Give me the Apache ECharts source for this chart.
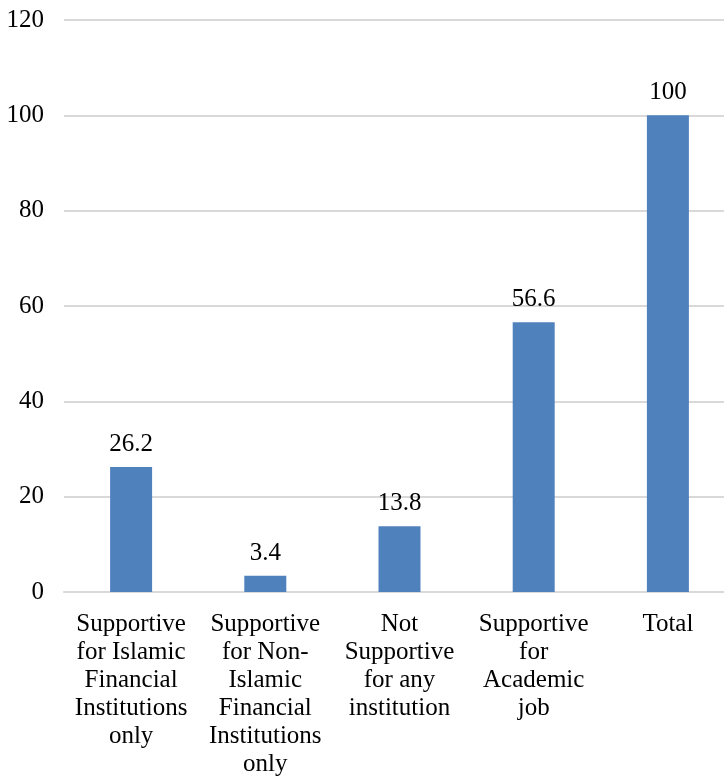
<!DOCTYPE html>
<html>
<head>
<meta charset="utf-8">
<script src="https://cdn.jsdelivr.net/npm/echarts@6/dist/echarts.min.js"></script>
<style>
  html, body { margin: 0; padding: 0; background: #ffffff; }
  #chart { width: 724px; height: 782px; }
</style>
</head>
<body>
<div id="chart"></div>
<script>
// Survey responses by supportiveness (percent)
const categories = [
  'Supportive\nfor Islamic\nFinancial\nInstitutions\nonly',
  'Supportive\nfor Non-\nIslamic\nFinancial\nInstitutions\nonly',
  'Not\nSupportive\nfor any\ninstitution',
  'Supportive\nfor\nAcademic\njob',
  'Total'
];
const values = [26.2, 3.4, 13.8, 56.6, 100];
const yTicks = { min: 0, max: 120, interval: 20 };

const FONT = 'Liberation Serif, Times New Roman, Times, serif';
const chart = echarts.init(document.getElementById('chart'));

chart.setOption({
  backgroundColor: '#ffffff',
  animation: false,
  grid: {
    left: 64, width: 671, top: 20, height: 572,
    containLabel: false,
    outerBoundsMode: 'none'
  },
  xAxis: {
    type: 'category',
    data: categories,
    axisLine: { show: true, lineStyle: { color: '#d9d9d9', width: 2 } },
    axisTick: { show: false },
    axisLabel: {
      interval: 0,
      margin: 18,
      color: '#000000',
      fontFamily: FONT,
      fontSize: 25,
      lineHeight: 28,
      align: 'center'
    }
  },
  yAxis: {
    type: 'value',
    min: yTicks.min,
    max: yTicks.max,
    interval: yTicks.interval,
    axisLine: { show: false },
    axisTick: { show: false },
    splitLine: { lineStyle: { color: '#d9d9d9', width: 2 } },
    axisLabel: {
      margin: 20,
      color: '#000000',
      fontFamily: FONT,
      fontSize: 25
    }
  },
  series: [{
    type: 'bar',
    data: values,
    barWidth: 42,
    itemStyle: { color: '#4f81bd' },
    label: {
      show: true,
      position: 'top',
      distance: 10,
      color: '#000000',
      fontFamily: FONT,
      fontSize: 25
    }
  }]
});
</script>
</body>
</html>
